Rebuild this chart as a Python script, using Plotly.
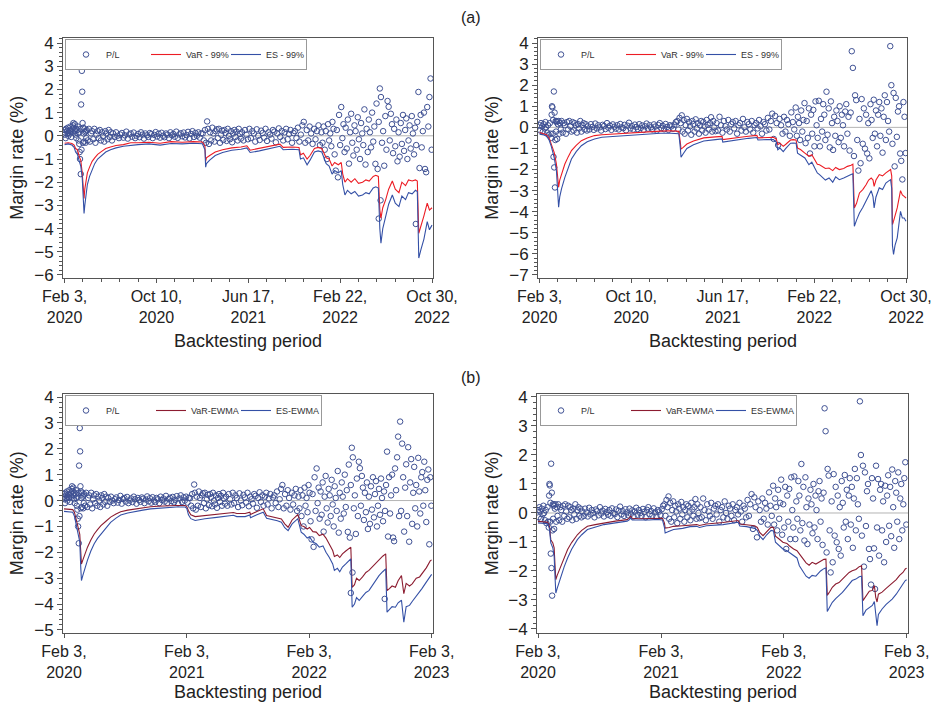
import pandas as pd
import plotly.graph_objects as go
from plotly.subplots import make_subplots

START = pd.Timestamp("2020-02-03")

# ---------------- shared sampling days (offset in days from Feb 3, 2020) ----------------
DAYS_C = [60, 63, 66, 69, 72, 75, 78, 81, 84, 87, 90, 93, 96, 99, 102, 105, 108, 111, 114, 117,
          120, 123, 126, 129]
DAYS_D = [132, 136, 140, 144, 148, 152, 156, 160, 164, 168, 172, 176, 180, 184, 188, 192, 196, 200,
          204, 208, 212, 216, 220, 224, 228, 232, 236, 240, 244, 248, 252, 256, 260, 264, 268, 272,
          276, 280, 284, 288, 292, 296, 300, 304, 308, 312, 316, 320, 324, 328, 332, 336, 340, 344,
          348, 352, 356, 360, 364, 368, 372]
DAYS_E = [376, 379, 382, 385, 388, 390, 393, 396, 399, 402, 405, 408, 411, 414, 417, 420, 423, 426,
          429, 432, 435, 438, 441, 444, 447, 450, 453, 456, 459, 462, 465, 468, 471, 474, 477, 480]
DAYS_F = [483, 487, 491, 495, 499, 503, 507, 511, 515, 519, 523, 527, 531, 535, 539, 543, 547, 551,
          555, 559, 563, 567, 571, 575, 579, 583, 587, 591, 595, 599, 603, 607, 611, 615, 619, 623,
          627, 631, 635, 639, 643, 647, 651, 655, 659, 663, 667, 671, 675, 679, 683, 687, 691, 695, 699]
DAYS_G = [702, 705, 708, 711, 714, 717, 720, 723, 726, 729, 732, 735, 738, 741, 744, 747, 750, 753,
          756, 759, 762, 765, 768, 771, 774, 777, 780, 783, 786, 789, 792, 795, 798, 801, 804, 807,
          810, 813, 816, 819, 822, 825, 828, 831, 834, 837, 840, 843, 846, 849, 852, 855, 858, 861,
          864, 867, 870, 873, 876, 879, 882, 885, 888, 891, 894, 897, 900, 903, 906, 909, 912, 915,
          918, 921, 924, 927, 930, 933, 936, 939, 942, 945, 948, 951, 954, 957, 960, 963, 966, 969,
          972, 975, 978, 981, 984, 987, 990, 993, 996, 999]
DAYS_H = [1002, 1005, 1008, 1011, 1014, 1017, 1020, 1023, 1026, 1029, 1032, 1035, 1038, 1041, 1044,
          1047, 1050, 1053, 1056, 1059, 1062, 1065, 1068, 1071, 1074, 1077, 1080, 1083, 1086, 1089,
          1092, 1095]

# ---------------- P/L, left-hand contract ----------------
PL1_DAYS_A = [0, 1, 2, 3, 4, 7, 8, 9, 10, 11, 14, 15, 16, 17, 18, 21, 22, 23, 24, 25, 28, 29, 30, 31,
              32, 35, 36, 37, 38, 39]
PL1_A = [0.15, 0.05, 0.25, -0.1, 0.3, 0.2, 0.1, 0.35, 0.0, 0.15, 0.25, 0.1, 0.4, 0.2, -0.05, 0.3, 0.15,
         0.45, 0.55, 0.35, 0.5, 0.2, 0.05, 0.3, -0.1, 0.25, 0.4, 0.1, -0.2, 0.15]
PL1_DAYS_B = [40, 41, 42, 43, 44, 45, 46, 47, 48, 49, 50, 51, 52, 53, 54, 56, 57, 58, 59]
PL1_B = [-0.35, -0.7, -1.0, 0.3, -1.65, 1.35, -0.6, 2.8, 1.9, 0.55, -0.3, 0.35, 0.1, -0.25, 0.3, 0.15,
         -0.3, 0.2, -0.1]
PL1_C = [0.25, -0.2, 0.3, -0.25, 0.1, 0.2, -0.15, 0.3, -0.3, 0.05, 0.2, -0.1, 0.25, -0.2, 0.15, 0.0,
         -0.25, 0.2, 0.1, -0.15, 0.25, -0.05, 0.15, -0.2]
PL1_D = [0.1, -0.05, 0.15, 0.0, -0.1, 0.05, 0.12, -0.08, 0.02, 0.18,
         -0.12, 0.06, 0.1, -0.04, 0.14, -0.1, 0.0, 0.08, -0.06, 0.15,
         0.05, -0.12, 0.1, 0.02, -0.05, 0.12, 0.07, -0.1, 0.04, 0.16,
         -0.03, 0.09, -0.08, 0.13, 0.0, -0.06, 0.1, 0.05, -0.1, 0.15,
         0.02, 0.08, -0.04, 0.18, -0.09, 0.06, 0.11, -0.02, 0.14, -0.07,
         0.03, 0.17, -0.11, 0.08, 0.2, -0.05, 0.12, 0.0, 0.15, -0.08,
         0.1]
PL1_E = [0.1, -0.2, 0.25, -0.3, 0.62, 0.3, -0.35, 0.15, -0.2, 0.35,
         0.1, -0.25, 0.2, 0.28, -0.1, 0.3, -0.3, 0.05, 0.22, -0.18,
         0.25, 0.12, -0.22, 0.3, 0.0, -0.15, 0.2, -0.28, 0.1, 0.25,
         -0.05, 0.18, -0.2, 0.3, 0.08, -0.12]
PL1_F = [0.15, -0.2, 0.25, 0.05, -0.15, 0.3, -0.1, 0.2, 0.1, -0.25,
         0.28, 0.0, -0.18, 0.22, 0.12, -0.08, 0.3, -0.22, 0.15, 0.05,
         -0.12, 0.25, 0.18, -0.28, 0.1, 0.32, -0.05, 0.2, -0.2, 0.15,
         0.3, -0.15, 0.08, 0.25, -0.3, 0.12, 0.2, -0.1, 0.35, -0.25,
         0.05, 0.45, 0.6, -0.3, 0.25, -0.2, 0.4, 0.1, -0.35, 0.3,
         -0.15, 0.2, 0.45, -0.4, 0.15]
PL1_G = [-0.3, 0.4, -0.6, 0.2, -1.0, 0.5, -0.2, 0.1, -0.45, 0.6,
         0.3, -0.8, -1.5, 0.25, -1.79, 0.9, -0.4, 1.24, -0.1, 0.5,
         -0.7, 0.35, -0.55, 0.7, -1.2, 0.15, 0.95, -0.3, -0.85, 0.45,
         0.2, -0.6, 0.8, -0.15, -1.0, 0.55, 0.1, -0.4, 1.14, -1.24,
         0.3, -0.7, 0.7, 0.15, -0.5, 1.0, -0.25, 0.4, -1.21, 1.39,
         -1.43, 0.6, 2.04, 1.67, -0.3, 0.2, -1.29, 0.85, -0.6, 1.5,
         1.25, -0.2, 0.95, 0.5, -0.75, 0.3, -0.45, 0.7, -1.1, 0.15,
         -0.9, 0.55, -0.35, 0.9, -0.65, 0.25, 0.75, -1.0, -0.2, 0.45,
         -0.55, 0.85, 0.1, -0.8, 0.35, -0.4, 0.6, 1.89, -1.39, 0.9,
         -0.5, 0.2, 1.0, -1.43, -1.57, 1.24, 0.4, 1.67, 2.47, -0.6]
PL1_H = [3.05, -0.4, 2.2, 0.9, -1.2, 0.5, 1.4, -0.6, 2.06, -1.59,
         0.7, 1.6, -0.9, 0.3, 1.3, -0.3, 0.6, -1.0, 1.65, 0.35,
         -0.5, 0.9, 1.1, -0.2, 1.5, 0.4, -0.83, 0.8, 1.2, -1.69,
         0.9, -0.2]
PL1_DAYS_X = [855, 860, 956]
PL1_X = [-3.57, -2.78, -3.8]

# ---------------- P/L, right-hand contract ----------------
PL2_DAYS_A = [0, 2, 4, 7, 9, 11, 14, 16, 18, 21, 23, 25, 28, 30]
PL2_A = [0.1, -0.15, 0.2, 0.05, -0.2, 0.15, -0.05, 0.25, 0.0, -0.25, 0.1, -0.35, 0.2, -0.3]
PL2_DAYS_B = [32, 33, 34, 35, 36, 37, 38, 39, 40, 41, 42, 43, 44, 45, 46, 47, 48, 50, 52, 54, 56, 58]
PL2_B = [-0.5, 0.6, 1.0, 0.95, -0.3, 0.35, -1.4, 1.7, -1.9, 0.7, -2.85, -0.6, 0.3, -0.2, 0.25, 0.3,
         -0.55, 0.15, 0.3, -0.3, 0.2, -0.1]
PL2_C = [0.3, -0.25, 0.2, 0.1, -0.3, 0.25, -0.1, 0.3, 0.05, -0.2, 0.25, -0.15, 0.2, 0.1, -0.25, 0.15,
         -0.05, 0.3, -0.2, 0.1, 0.2, -0.1, 0.15, -0.15]
PL2_D = [0.05, -0.1, 0.15, 0.02, -0.12, 0.18, -0.05, 0.1, 0.0, -0.15,
         0.12, 0.06, -0.08, 0.2, -0.02, 0.08, -0.12, 0.14, 0.03, -0.06,
         0.1, -0.1, 0.16, 0.0, -0.04, 0.12, -0.14, 0.08, 0.22, -0.05,
         0.06, -0.1, 0.13, 0.02, -0.08, 0.15, -0.03, 0.09, -0.12, 0.05,
         0.18, -0.06, 0.1, 0.0, -0.1, 0.14, 0.04, -0.15, 0.11, 0.2,
         -0.04, 0.07, -0.09, 0.16, 0.02, -0.12, 0.1, 0.05, -0.07, 0.13,
         0.25]
PL2_E = [0.3, -0.1, 0.45, 0.2, 0.57, -0.2, 0.35, -0.3, 0.1, 0.4,
         -0.15, 0.25, 0.05, -0.35, 0.3, 0.15, -0.2, 0.38, -0.05, 0.2,
         -0.3, 0.1, 0.3, -0.15, 0.25, 0.05, -0.25, 0.35, 0.12, -0.1,
         0.2, 0.48, -0.2, 0.3, 0.0, -0.18]
PL2_F = [0.2, -0.15, 0.5, 0.1, -0.25, 0.3, 0.05, -0.1, 0.35, -0.2,
         0.15, 0.25, -0.05, 0.3, -0.3, 0.1, 0.2, -0.15, 0.4, 0.0,
         -0.2, 0.25, 0.15, -0.1, 0.3, -0.25, 0.1, 0.2, -0.05, 0.35,
         0.05, -0.3, 0.25, 0.15, -0.15, 0.45, -0.1, 0.3, 0.65, -0.55,
         0.54, 0.2, -0.84, 0.4, 0.1, -0.3, 0.5, -0.2, 0.35, 0.15,
         -0.4, 0.71, 0.25, -0.1, 0.94]
PL2_G = [-0.4, 0.5, 0.2, -0.6, 0.8, -0.2, 0.35, 1.15, -0.75, 0.3,
         -0.5, 0.9, -1.24, 0.6, -0.3, 0.83, -0.9, 1.23, 0.1, -0.5,
         1.26, -0.9, 0.4, -0.2, 1.1, 0.6, -0.6, 1.69, -0.35, 0.9,
         -0.95, 1.23, 0.2, -1.07, 0.5, -0.4, 0.8, 0.3, -0.7, 1.0,
         -0.5, 0.6, 0.1, -0.9, 0.75, 1.1, -0.3, 0.5, -1.1, 0.7,
         3.61, 2.82, -1.36, 1.52, 1.29, -0.6, -2.05, 0.4, -1.7, 1.34,
         -0.78, 0.9, -1.01, 0.6, -1.24, 0.2, -1.47, 1.1, 0.35, -0.5,
         1.31, -0.3, 0.8, -0.9, 0.6, 1.2, -0.4, 0.9, -1.2, 0.5,
         1.52, -0.6, 1.2, 0.3, -0.2, 3.85, 2.0, -0.78, 1.63, -1.85,
         1.4, -0.45, 0.75, 1.0, -1.24, -1.59, -2.47, 1.2, 0.5, -1.22]
PL2_H = [-2.62, 1.63, -0.5, 1.17, -1.47, 0.8, 1.0, -0.6, 0.4, -1.7,
         0.94, -1.0, 0.6, 1.3, -0.44, 0.9, -0.8, 1.5, 0.2, -1.2,
         1.1, 0.7, -0.3, 1.4, -0.9, 0.5, 1.0, -0.6, 0.3, 1.2,
         1.75, -0.4]

# ---------------- (a) historical VaR / ES 99% ----------------
TL_DAYS = [0, 10, 20, 26, 30, 35, 40, 44, 48, 51, 53, 55, 58, 62, 68, 75, 82, 90, 100, 112,
           125, 140, 160, 180, 200, 230, 260, 290, 320, 350, 375, 382, 384, 386, 395, 410, 430, 455, 480, 496,
           505, 530, 560, 586, 595, 620, 638, 642, 650, 660, 668, 680, 690, 700, 712, 720, 728, 735, 745, 753,
           757, 763, 770, 780, 790, 800, 811, 820, 829, 840, 847, 854, 858, 861, 866, 874, 882, 892, 900, 910,
           918, 928, 936, 946, 955, 960, 964, 970, 978, 987, 993, 1000]
TL_VAR = [-0.32, -0.3, -0.33, -0.4, -0.55, -0.6, -0.9, -1.05, -1.6, -2.4,
          -2.7, -2.3, -1.9, -1.6, -1.35, -1.1, -0.95, -0.8, -0.68, -0.55,
          -0.48, -0.42, -0.38, -0.3, -0.3, -0.28, -0.32, -0.25, -0.28, -0.25,
          -0.27, -0.45, -1.1, -0.95, -0.85, -0.7, -0.6, -0.52, -0.48, -0.43,
          -0.62, -0.55, -0.45, -0.36, -0.5, -0.48, -0.5, -0.82, -0.75, -1.0,
          -0.85, -0.55, -0.5, -0.55, -0.95, -1.0, -1.3, -1.15, -1.25, -1.15,
          -1.65, -2.0, -1.85, -2.0, -1.85, -2.05, -2.0, -1.9, -1.95, -1.75,
          -1.7, -1.75, -3.2, -3.55, -3.1, -2.75, -2.3, -1.95, -2.3, -2.45,
          -2.0, -2.15, -1.9, -1.95, -1.9, -1.95, -4.2, -3.9, -3.45, -2.9,
          -3.2, -3.1]
TL_ES = [-0.38, -0.35, -0.4, -0.5, -0.7, -0.8, -1.1, -1.3, -1.8, -2.8,
         -3.35, -3.0, -2.5, -2.1, -1.75, -1.45, -1.2, -1.0, -0.85, -0.7,
         -0.6, -0.52, -0.45, -0.4, -0.38, -0.35, -0.4, -0.33, -0.35, -0.32,
         -0.34, -0.6, -1.35, -1.2, -1.05, -0.85, -0.72, -0.62, -0.58, -0.52,
         -0.72, -0.65, -0.55, -0.45, -0.6, -0.58, -0.6, -1.0, -0.95, -1.25,
         -1.05, -0.7, -0.65, -0.7, -1.2, -1.3, -1.65, -1.5, -1.6, -1.5,
         -2.1, -2.55, -2.35, -2.5, -2.4, -2.6, -2.55, -2.45, -2.5, -2.25,
         -2.2, -2.25, -4.0, -4.63, -4.0, -3.5, -2.95, -2.55, -2.9, -3.05,
         -2.6, -2.75, -2.45, -2.5, -2.35, -2.4, -5.27, -4.9, -4.45, -3.7,
         -4.05, -3.85]

TR_DAYS = [0, 12, 19, 26, 32, 40, 46, 50, 52, 55, 60, 69, 78, 87, 100, 114, 130, 150, 170, 195,
           230, 268, 300, 330, 358, 380, 384, 386, 392, 402, 420, 448, 480, 498, 500, 520, 548, 570, 593, 596,
           620, 638, 646, 650, 656, 665, 672, 685, 692, 700, 704, 712, 724, 735, 743, 751, 758, 764, 772, 780,
           790, 800, 808, 818, 830, 840, 850, 855, 859, 865, 873, 882, 891, 898, 905, 910, 913, 918, 927, 936,
           945, 952, 958, 961, 963, 966, 970, 976, 985, 990, 995, 1000]
TR_VAR = [-0.24, -0.3, -0.35, -0.5, -0.8, -1.2, -1.74, -2.4, -2.84, -2.5,
          -2.2, -1.74, -1.4, -1.1, -0.85, -0.63, -0.5, -0.39, -0.35, -0.32,
          -0.27, -0.24, -0.2, -0.18, -0.16, -0.19, -0.7, -1.03, -0.95, -0.79,
          -0.65, -0.5, -0.45, -0.43, -0.58, -0.52, -0.47, -0.42, -0.38, -0.5,
          -0.48, -0.47, -0.55, -0.82, -0.75, -0.9, -0.8, -0.6, -0.58, -0.6,
          -0.98, -1.05, -1.22, -1.37, -1.3, -1.53, -1.75, -1.77, -1.85, -1.95,
          -1.93, -2.05, -1.9, -2.0, -1.95, -1.85, -1.8, -1.75, -3.82, -3.6,
          -3.11, -2.95, -2.72, -2.5, -2.4, -2.5, -2.8, -2.5, -2.24, -2.3,
          -2.16, -2.05, -2.0, -2.3, -4.61, -4.45, -4.2, -3.82, -3.0, -3.2,
          -3.27, -3.35]
TR_ES = [-0.32, -0.36, -0.42, -0.6, -0.9, -1.45, -2.05, -3.0, -3.79, -3.3,
         -2.9, -2.37, -1.9, -1.5, -1.15, -0.87, -0.68, -0.55, -0.47, -0.44,
         -0.38, -0.34, -0.3, -0.28, -0.28, -0.3, -0.95, -1.42, -1.25, -1.0,
         -0.82, -0.65, -0.58, -0.55, -0.7, -0.64, -0.58, -0.52, -0.48, -0.6,
         -0.58, -0.58, -0.7, -1.06, -0.98, -1.15, -1.0, -0.75, -0.74, -0.75,
         -1.22, -1.3, -1.45, -1.77, -1.65, -1.93, -2.16, -2.24, -2.35, -2.5,
         -2.4, -2.6, -2.35, -2.48, -2.4, -2.3, -2.24, -2.2, -4.69, -4.4,
         -4.06, -3.8, -3.5, -3.2, -3.0, -3.3, -3.82, -3.3, -2.87, -2.95,
         -2.64, -2.55, -2.48, -2.9, -5.6, -6.03, -5.6, -5.24, -3.98, -4.3,
         -4.3, -4.45]

# ---------------- (b) EWMA VaR / ES ----------------
BL_DAYS = [0, 15, 26, 31, 36, 42, 47, 50, 52, 56, 62, 70, 80, 90, 100, 110, 125, 139, 155, 169,
           190, 208, 235, 258, 280, 307, 335, 361, 366, 371, 378, 391, 420, 455, 480, 505, 515, 540, 554, 556,
           575, 594, 604, 620, 636, 648, 658, 668, 680, 697, 707, 715, 725, 732, 742, 752, 761, 772, 781, 791,
           801, 806, 815, 822, 830, 840, 848, 855, 859, 866, 872, 880, 890, 900, 909, 920, 930, 939, 950, 959,
           963, 970, 978, 988, 996, 1006, 1010, 1013, 1020, 1030, 1038, 1050, 1060, 1067, 1080, 1092, 1096]
BL_VAR = [-0.32, -0.33, -0.35, -0.45, -0.7, -1.1, -1.3, -2.0, -2.45, -2.3,
          -2.05, -1.8, -1.52, -1.29, -1.12, -0.97, -0.8, -0.64, -0.52, -0.43,
          -0.37, -0.33, -0.28, -0.24, -0.22, -0.2, -0.19, -0.19, -0.23, -0.39,
          -0.55, -0.62, -0.58, -0.54, -0.5, -0.46, -0.5, -0.5, -0.45, -0.54,
          -0.42, -0.32, -0.58, -0.62, -0.66, -0.71, -0.9, -1.03, -0.75, -0.54,
          -0.97, -1.0, -1.1, -1.04, -1.2, -1.22, -1.35, -1.3, -1.45, -1.67,
          -1.93, -2.16, -2.1, -2.2, -2.06, -1.95, -1.85, -1.8, -3.35, -3.25,
          -3.0, -3.09, -2.95, -2.78, -2.7, -2.55, -2.42, -2.32, -2.15, -2.06,
          -3.48, -3.4, -3.3, -3.35, -3.1, -2.9, -3.3, -3.6, -3.2, -3.3,
          -3.22, -3.0, -2.95, -2.83, -2.6, -2.32, -2.3]
BL_ES = [-0.42, -0.43, -0.45, -0.6, -0.9, -1.35, -1.6, -2.6, -3.09, -2.9,
         -2.6, -2.3, -1.95, -1.67, -1.46, -1.29, -1.05, -0.84, -0.68, -0.56,
         -0.48, -0.43, -0.37, -0.32, -0.3, -0.27, -0.25, -0.25, -0.3, -0.55,
         -0.7, -0.77, -0.7, -0.65, -0.6, -0.57, -0.62, -0.62, -0.56, -0.66,
         -0.55, -0.45, -0.68, -0.72, -0.78, -0.84, -1.05, -1.16, -0.9, -0.7,
         -1.22, -1.3, -1.45, -1.4, -1.6, -1.67, -1.8, -1.75, -2.0, -2.2,
         -2.45, -2.7, -2.62, -2.75, -2.57, -2.45, -2.35, -2.25, -4.12, -4.0,
         -3.75, -3.86, -3.7, -3.55, -3.48, -3.25, -3.05, -2.9, -2.75, -2.64,
         -4.31, -4.2, -4.1, -4.12, -3.95, -3.85, -4.3, -4.7, -4.1, -4.05,
         -3.9, -3.7, -3.55, -3.4, -3.15, -2.9, -2.85]

BR_DAYS = [0, 15, 29, 34, 38, 44, 48, 51, 53, 57, 62, 68, 78, 88, 100, 117, 130, 147, 170, 196,
           230, 265, 272, 275, 280, 300, 330, 354, 370, 376, 378, 390, 403, 430, 452, 472, 480, 501, 550, 595,
           600, 620, 644, 652, 659, 669, 680, 693, 700, 706, 715, 728, 740, 747, 760, 770, 777, 787, 797, 806,
           815, 826, 840, 850, 856, 860, 868, 875, 885, 895, 905, 915, 925, 934, 945, 955, 962, 966, 975, 985,
           994, 1000, 1004, 1008, 1012, 1023, 1035, 1045, 1053, 1065, 1075, 1085, 1092, 1096]
BR_VAR = [-0.29, -0.3, -0.32, -0.46, -0.92, -1.03, -1.2, -1.9, -2.3, -2.15,
          -2.0, -1.84, -1.52, -1.26, -1.02, -0.75, -0.6, -0.46, -0.4, -0.34,
          -0.28, -0.23, -0.17, -0.11, -0.18, -0.2, -0.19, -0.17, -0.18, -0.35,
          -0.52, -0.5, -0.46, -0.44, -0.41, -0.4, -0.43, -0.38, -0.33, -0.26,
          -0.38, -0.4, -0.44, -0.5, -0.67, -0.78, -0.65, -0.49, -0.5, -0.8,
          -0.88, -1.01, -1.05, -1.13, -1.24, -1.3, -1.41, -1.55, -1.72, -1.8,
          -1.7, -1.76, -1.65, -1.6, -1.59, -2.84, -2.7, -2.56, -2.45, -2.4,
          -2.28, -2.15, -2.05, -1.99, -1.95, -1.85, -1.82, -3.02, -2.85, -2.7,
          -2.67, -2.5, -2.9, -3.07, -2.8, -2.73, -2.6, -2.5, -2.45, -2.3,
          -2.15, -2.05, -1.93, -1.9]
BR_ES = [-0.34, -0.35, -0.37, -0.55, -1.03, -1.2, -1.5, -2.3, -2.76, -2.6,
         -2.4, -2.18, -1.85, -1.55, -1.25, -0.92, -0.75, -0.57, -0.48, -0.4,
         -0.34, -0.28, -0.23, -0.17, -0.24, -0.25, -0.24, -0.22, -0.24, -0.5,
         -0.69, -0.63, -0.57, -0.53, -0.47, -0.46, -0.5, -0.44, -0.4, -0.32,
         -0.45, -0.47, -0.53, -0.6, -0.79, -0.92, -0.75, -0.6, -0.62, -1.01,
         -1.1, -1.24, -1.3, -1.36, -1.48, -1.55, -1.82, -1.98, -2.18, -2.25,
         -2.15, -2.18, -2.0, -1.92, -1.89, -3.4, -3.25, -3.08, -2.95, -2.85,
         -2.74, -2.6, -2.45, -2.33, -2.28, -2.2, -2.18, -3.54, -3.35, -3.25,
         -3.19, -3.05, -3.6, -3.89, -3.5, -3.31, -3.15, -3.05, -2.97, -2.8,
         -2.6, -2.45, -2.33, -2.3]

TOP_TICK_DAYS = [0, 250, 500, 750, 1000]
TOP_TICK_TEXT = ["Feb 3,<br>2020", "Oct 10,<br>2020", "Jun 17,<br>2021", "Feb 22,<br>2022", "Oct 30,<br>2022"]
BOT_TICK_DAYS = [0, 366, 731, 1096]
BOT_TICK_TEXT = ["Feb 3,<br>2020", "Feb 3,<br>2021", "Feb 3,<br>2022", "Feb 3,<br>2023"]

# ---------------- assemble ----------------
PL1_DAYS = PL1_DAYS_A + PL1_DAYS_B + DAYS_C + DAYS_D + DAYS_E + DAYS_F + DAYS_G + DAYS_H + PL1_DAYS_X
PL1 = PL1_A + PL1_B + PL1_C + PL1_D + PL1_E + PL1_F + PL1_G + PL1_H + PL1_X
PL2_DAYS = PL2_DAYS_A + PL2_DAYS_B + DAYS_C + DAYS_D + DAYS_E + DAYS_F + DAYS_G + DAYS_H
PL2 = PL2_A + PL2_B + PL2_C + PL2_D + PL2_E + PL2_F + PL2_G + PL2_H
assert len(PL1_DAYS) == len(PL1), (len(PL1_DAYS), len(PL1))
assert len(PL2_DAYS) == len(PL2), (len(PL2_DAYS), len(PL2))
for nm, d, a, b in [("TL", TL_DAYS, TL_VAR, TL_ES), ("TR", TR_DAYS, TR_VAR, TR_ES),
                    ("BL", BL_DAYS, BL_VAR, BL_ES), ("BR", BR_DAYS, BR_VAR, BR_ES)]:
    assert len(d) == len(a) == len(b), (nm, len(d), len(a), len(b))


def to_dates(days):
    return [START + pd.Timedelta(days=int(x)) for x in days]


def upto(days, vals, last):
    pairs = [(d, v) for d, v in zip(days, vals) if d <= last]
    return [p[0] for p in pairs], [p[1] for p in pairs]


# The page body has an 8 px margin, so the figure is drawn inside it.
PAGE_W, PAGE_H, OFF = 943, 711, 8
W, H = PAGE_W - 2 * OFF, PAGE_H - 2 * OFF


def fx(px):
    return (px - OFF) / W


def fy(py):
    return 1 - (py - OFF) / H


FONT = "Liberation Sans, Arial, Helvetica, sans-serif"
TXT = "#222222"
AX = "#555555"
PL_COLOR = "#3f5194"
RED = "#ec1c24"
BLUE = "#3450a6"
DARKRED = "#8c1c30"

fig = make_subplots(rows=2, cols=2)

panels = [
    dict(row=1, col=1, pl=(PL1_DAYS, PL1), last=1000, ld=TL_DAYS, var=TL_VAR, es=TL_ES,
         vn="VaR - 99%", en="ES - 99%", vc=RED, leg="legend"),
    dict(row=1, col=2, pl=(PL2_DAYS, PL2), last=1000, ld=TR_DAYS, var=TR_VAR, es=TR_ES,
         vn="VaR - 99%", en="ES - 99%", vc=RED, leg="legend2"),
    dict(row=2, col=1, pl=(PL1_DAYS, PL1), last=1096, ld=BL_DAYS, var=BL_VAR, es=BL_ES,
         vn="VaR-EWMA", en="ES-EWMA", vc=DARKRED, leg="legend3"),
    dict(row=2, col=2, pl=(PL2_DAYS, PL2), last=1096, ld=BR_DAYS, var=BR_VAR, es=BR_ES,
         vn="VaR-EWMA", en="ES-EWMA", vc=DARKRED, leg="legend4"),
]

for p in panels:
    d, v = upto(p["pl"][0], p["pl"][1], p["last"])
    fig.add_trace(go.Scatter(x=to_dates(d), y=v, mode="markers", name="P/L", legend=p["leg"],
                             marker=dict(symbol="circle-open", size=5.5, color=PL_COLOR,
                                         line=dict(width=1, color=PL_COLOR))),
                  row=p["row"], col=p["col"])
    fig.add_trace(go.Scatter(x=to_dates(p["ld"]), y=p["var"], mode="lines", name=p["vn"],
                             legend=p["leg"], line=dict(color=p["vc"], width=1.1)),
                  row=p["row"], col=p["col"])
    fig.add_trace(go.Scatter(x=to_dates(p["ld"]), y=p["es"], mode="lines", name=p["en"],
                             legend=p["leg"], line=dict(color=BLUE, width=1.1)),
                  row=p["row"], col=p["col"])
    fig.add_hline(y=0, line_color="#b4b4b4", line_width=1, layer="below", row=p["row"], col=p["col"])

# geometry (page-pixel boxes of each plot area)
boxes = {
    (1, 1): dict(x0=63, x1=433, y0=38, y1=277.5, yr=[-6.108, 4.216], xr=[-4.3, 1002.7],
                 tv=TOP_TICK_DAYS, tt=TOP_TICK_TEXT, minor=True),
    (1, 2): dict(x0=538, x1=907, y0=38, y1=277.5, yr=[-7.119, 4.237], xr=[-4.3, 1002.7],
                 tv=TOP_TICK_DAYS, tt=TOP_TICK_TEXT, minor=True),
    (2, 1): dict(x0=63, x1=433, y0=394, y1=632.5, yr=[-5.097, 4.116], xr=[-3, 1100],
                 tv=BOT_TICK_DAYS, tt=BOT_TICK_TEXT, minor=False),
    (2, 2): dict(x0=537, x1=908, y0=394, y1=632.5, yr=[-4.121, 4.103], xr=[-3, 1100],
                 tv=BOT_TICK_DAYS, tt=BOT_TICK_TEXT, minor=False),
}

ytickfont = dict(family=FONT, size=17, color=TXT)
xtickfont = dict(family=FONT, size=16, color=TXT)
for (r, c), b in boxes.items():
    xminor = dict(ticks="outside", ticklen=3, tickcolor=AX, dtick=50 * 86400000,
                  tick0="2020-02-03") if b["minor"] else dict(ticks="")
    fig.update_xaxes(domain=[fx(b["x0"]), fx(b["x1"])], type="date", automargin=False,
                     range=[START + pd.Timedelta(days=b["xr"][0]), START + pd.Timedelta(days=b["xr"][1])],
                     tickmode="array", tickvals=to_dates(b["tv"]), ticktext=b["tt"],
                     ticks="outside", ticklen=4, tickcolor=AX, showline=True, linecolor=AX,
                     linewidth=1, mirror=True, showgrid=False, zeroline=False, tickfont=xtickfont,
                     minor=xminor, row=r, col=c)
    fig.update_yaxes(domain=[fy(b["y1"]), fy(b["y0"])], range=b["yr"], dtick=1, tick0=0,
                     automargin=False,
                     ticks="outside", ticklen=5, tickcolor=AX, showline=True, linecolor=AX,
                     linewidth=1, mirror=True, showgrid=False, zeroline=False, tickfont=ytickfont,
                     minor=dict(ticks="outside", ticklen=3, tickcolor=AX, dtick=0.2),
                     row=r, col=c)

legfont = dict(family=FONT, size=9, color="#333333")


def legend_at(xpx, ypx, ew):
    return dict(x=fx(xpx), y=fy(ypx), xanchor="left", yanchor="top", orientation="h",
                bgcolor="white", bordercolor="#999999", borderwidth=1, font=legfont,
                entrywidth=ew, entrywidthmode="pixels", itemwidth=30, traceorder="normal",
                tracegroupgap=0)


def label(text, xpx, ypx, size, angle=0):
    return dict(text=text, x=fx(xpx), y=fy(ypx), xref="paper", yref="paper", showarrow=False,
                xanchor="center", yanchor="middle", textangle=angle,
                font=dict(family=FONT, size=size, color=TXT))


annotations = [label("(a)", 471, 17, 16), label("(b)", 471, 377, 16)]
for (r, c), b in boxes.items():
    yc = (b["y0"] + b["y1"]) / 2
    xc = (b["x0"] + b["x1"]) / 2
    annotations.append(label("Margin rate (%)", 17 if c == 1 else 492, yc, 18, -90))
    annotations.append(label("Backtesting period", xc, 341 if r == 1 else 692, 18))

fig.update_layout(
    width=W, height=H, margin=dict(l=0, r=0, t=0, b=0, autoexpand=False),
    paper_bgcolor="white", plot_bgcolor="white",
    showlegend=True,
    legend=legend_at(65, 39, 35),
    legend2=legend_at(540, 39, 35),
    legend3=legend_at(65, 395, 40),
    legend4=legend_at(540, 395, 40),
    annotations=annotations,
    font=dict(family=FONT, color=TXT),
)

fig.write_html("out.html")
